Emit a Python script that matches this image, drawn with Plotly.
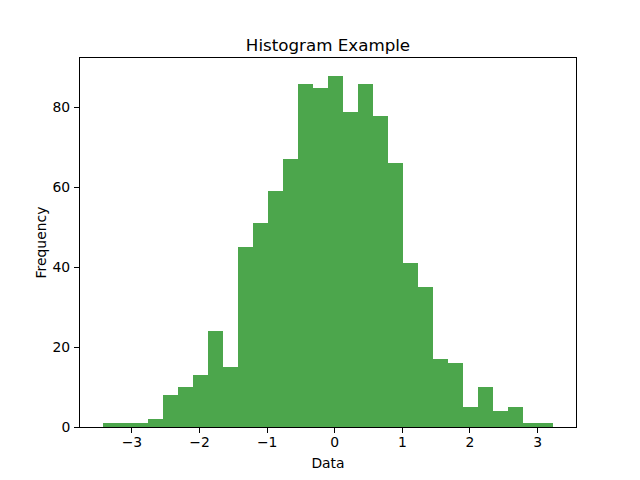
import plotly.graph_objects as go

# Histogram data (30 bins)
bin_start = -3.434
bin_width = 0.2223
counts = [1, 1, 1, 2, 8, 10, 13, 24, 15, 45, 51, 59, 67, 86, 85, 88, 79, 86, 78, 66,
          41, 35, 17, 16, 5, 10, 4, 5, 1, 1]
x_ticks = [-3, -2, -1, 0, 1, 2, 3]
x_tick_text = ["−3", "−2", "−1", "0", "1", "2", "3"]
y_ticks = [0, 20, 40, 60, 80]
y_tick_text = ["0", "20", "40", "60", "80"]

centers = [bin_start + bin_width * (i + 0.5) for i in range(len(counts))]
x_lo = bin_start
x_hi = bin_start + bin_width * len(counts)
pad = 0.05 * (x_hi - x_lo)

fig = go.Figure(go.Bar(
    x=centers, y=counts, width=[bin_width] * len(counts),
    marker=dict(color="rgba(0,128,0,0.7)", line=dict(width=0)),
))

font = "DejaVu Sans"
fs = 13.9
fig.update_layout(
    width=640, height=480,
    margin=dict(l=80, r=64, t=58, b=53, autoexpand=False),
    paper_bgcolor="white", plot_bgcolor="white",
    showlegend=False,
    bargap=0,
    font=dict(family=font, size=fs, color="black"),
    title=dict(text="Histogram Example", x=0.5, xref="paper", xanchor="center",
               y=1, yref="paper", yanchor="bottom", pad=dict(b=7),
               font=dict(family=font, size=16.7, color="black")),
)
fig.update_xaxes(
    range=[x_lo - pad, x_hi + pad],
    tickvals=x_ticks, ticktext=x_tick_text,
    ticks="outside", ticklen=5, tickwidth=1, tickcolor="black",
    tickfont=dict(family=font, size=fs, color="black"),
    showline=True, linecolor="black", linewidth=1, mirror=True,
    showgrid=False, zeroline=False, automargin=False,
    title=dict(text="Data", standoff=9, font=dict(family=font, size=fs, color="black")),
    ticklabelstandoff=-3,
)
fig.update_yaxes(
    range=[0, max(counts) * 1.05],
    tickvals=y_ticks, ticktext=y_tick_text,
    ticks="outside", ticklen=5, tickwidth=1, tickcolor="black",
    tickfont=dict(family=font, size=fs, color="black"),
    showline=True, linecolor="black", linewidth=1, mirror=True,
    showgrid=False, zeroline=False, automargin=False,
    title=dict(text="Frequency", standoff=2, font=dict(family=font, size=fs, color="black")),
    ticklabelstandoff=1,
)

fig.write_html("out.html", config={"displayModeBar": False},
               post_script="document.body.style.margin='0';")
